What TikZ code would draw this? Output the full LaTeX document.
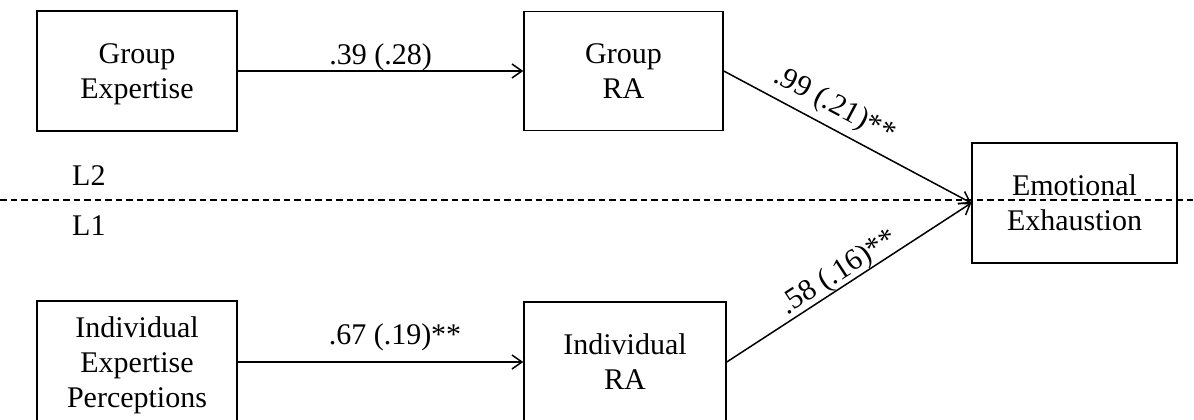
\documentclass[tikz,border=0pt]{standalone}
\usepackage{fontspec}
\setmainfont{Liberation Serif}
\usetikzlibrary{arrows.meta,calc}
\begin{document}
\begin{tikzpicture}[x=1pt,y=-1pt,
  every node/.style={font=\fontsize{30pt}{35pt}\selectfont},
  box/.style={draw=black,line width=1.5pt,inner sep=0pt,align=center,text depth=0pt},
  conn/.style={line width=1.5pt,-{Straight Barb[length=10pt,width=14pt,line width=1.5pt]}},
  coef/.style={inner sep=0pt,anchor=base},
  level/.style={inner sep=0pt,anchor=base west},
  sep/.style={line width=1.3pt,dash pattern=on 6.5pt off 4pt}]
\useasboundingbox (0,0) rectangle (1194,420);
% boxes
\node[box,minimum width=200pt,minimum height=120pt] (ge)  at (137,71)    {Group\\Expertise};
\node[box,minimum width=199pt,minimum height=119pt] (gra) at (623.5,71)  {Group\\RA};
\node[box,minimum width=205pt,minimum height=120pt] (ee)  at (1074.5,203) {Emotional\\Exhaustion};
\node[box,minimum width=200pt,minimum height=122pt] (iep) at (137,362) {Individual\\Expertise\\Perceptions};
\node[box,minimum width=202pt,minimum height=120pt] (ira) at (625,362) {Individual\\RA};
% level separator
\draw[sep] (0,200) -- (1194,200);
\node[level] (l2) at (72,185) {L2};
\node[level] (l1) at (72,235) {L1};
% connectors
\draw[conn] (ge.east) -- node[coef,midway,yshift=7pt] (c1) {.39 (.28)} (gra.west);
\draw[conn] (iep.east) -- node[coef,midway,yshift=18pt,xshift=14.5pt] (c2) {.67 (.19)**} (ira.west);
\draw[conn] (gra.east) -- (ee.west);
\draw[conn] (ira.east) -- (ee.west);
% diagonal coefficients
\coordinate (m1) at ($(gra.east)!0.406!(ee.west)$);
\coordinate (m2) at ($(ira.east)!0.49!(ee.west)$);
\node[coef,rotate=-27.93] (c3) at ($(m1)!14pt!90:(ee.west)$) {.99 (.21)**};
\node[coef,rotate=32.88] (c4) at ($(m2)!6pt!90:(ee.west)$) {.58 (.16)**};
\end{tikzpicture}
\end{document}
